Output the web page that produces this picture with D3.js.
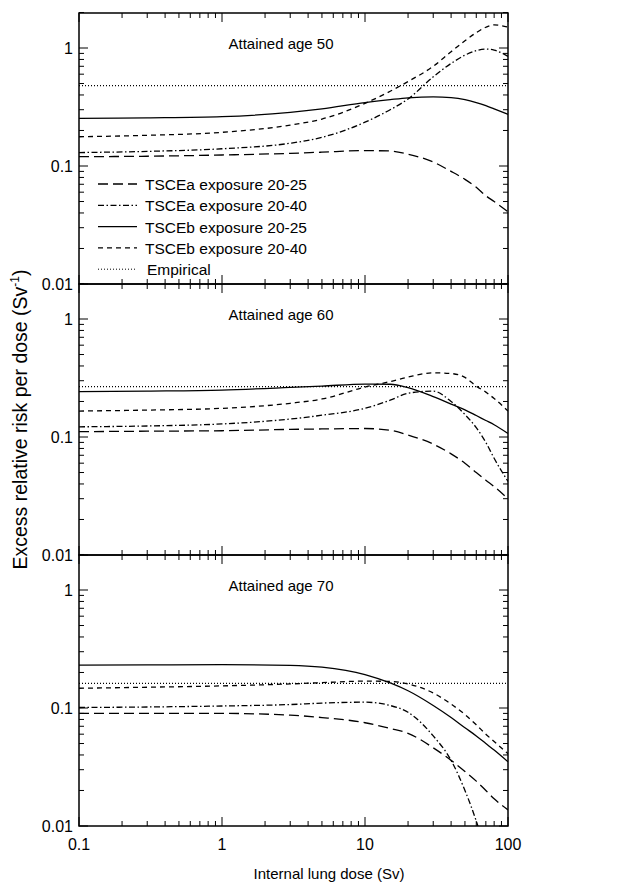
<!DOCTYPE html>
<html>
<head>
<meta charset="utf-8">
<script src="https://cdn.jsdelivr.net/npm/d3@7"></script>
<style>
  body { margin: 0; background: #fff; }
  text { font-family: "Liberation Sans", Arial, Helvetica, sans-serif; fill: #000; }
</style>
</head>
<body>
<div id="chart"></div>
<script>
// doses where curves were read (Sv)
var doses = [0.1, 0.3, 1, 3, 5, 10, 15, 20, 30, 40, 50, 60, 70, 80, 100];

var panelTitles = ["Attained age 50", "Attained age 60", "Attained age 70"];

// attained age 50
var age50_a2025 = [0.12, 0.121, 0.124, 0.128, 0.131, 0.135, 0.134, 0.126, 0.108, 0.09, 0.077, 0.066, 0.056, 0.05, 0.041];
var age50_a2040 = [0.13, 0.133, 0.14, 0.156, 0.175, 0.235, 0.3, 0.37, 0.57, 0.74, 0.87, 0.95, 0.98, 0.96, 0.85];
var age50_b2025 = [0.253, 0.256, 0.262, 0.285, 0.305, 0.345, 0.365, 0.378, 0.386, 0.38, 0.365, 0.345, 0.325, 0.305, 0.274];
var age50_b2040 = [0.177, 0.182, 0.193, 0.222, 0.25, 0.34, 0.43, 0.52, 0.7, 0.93, 1.15, 1.35, 1.5, 1.57, 1.5];
var age50_emp = 0.48;

// attained age 60
var age60_a2025 = [0.111, 0.112, 0.113, 0.116, 0.117, 0.118, 0.114, 0.104, 0.087, 0.072, 0.06, 0.05, 0.043, 0.038, 0.03];
var age60_a2040 = [0.122, 0.124, 0.129, 0.142, 0.153, 0.175, 0.205, 0.235, 0.245, 0.2, 0.155, 0.12, 0.09, 0.066, 0.042];
var age60_b2025 = [0.242, 0.245, 0.25, 0.263, 0.27, 0.281, 0.28, 0.262, 0.22, 0.19, 0.17, 0.152, 0.138, 0.127, 0.107];
var age60_b2040 = [0.166, 0.169, 0.175, 0.193, 0.21, 0.265, 0.295, 0.322, 0.35, 0.345, 0.32, 0.27, 0.24, 0.212, 0.166];
var age60_emp = 0.267;

// attained age 70
var age70_a2025 = [0.09, 0.09, 0.09, 0.087, 0.083, 0.075, 0.067, 0.061, 0.046, 0.036, 0.029, 0.024, 0.02, 0.017, 0.0137];
var age70_a2040 = [0.101, 0.102, 0.104, 0.107, 0.11, 0.112, 0.105, 0.092, 0.058, 0.036, 0.02, 0.011, 0.006, 0.003, 0.001];
var age70_b2025 = [0.231, 0.232, 0.233, 0.23, 0.222, 0.192, 0.163, 0.14, 0.105, 0.083, 0.068, 0.058, 0.05, 0.044, 0.035];
var age70_b2040 = [0.147, 0.15, 0.154, 0.16, 0.164, 0.169, 0.168, 0.16, 0.134, 0.108, 0.088, 0.072, 0.06, 0.052, 0.041];
var age70_emp = 0.162;

var seriesNames = ["TSCEa exposure 20-25", "TSCEa exposure 20-40",
                   "TSCEb exposure 20-25", "TSCEb exposure 20-40", "Empirical"];
var seriesDash = ["10,5", "6,2.5,1.5,2.5", null, "5,4", "1,2"];

var xTickValues = [0.1, 1, 10, 100];
var xTickLabels = ["0.1", "1", "10", "100"];
var yTickValues = [0.01, 0.1, 1];
var yTickLabels = ["0.01", "0.1", "1"];

var panels = [
    {"title": panelTitles[0], "curves": [age50_a2025, age50_a2040, age50_b2025, age50_b2040], "emp": age50_emp},
    {"title": panelTitles[1], "curves": [age60_a2025, age60_a2040, age60_b2025, age60_b2040], "emp": age60_emp},
    {"title": panelTitles[2], "curves": [age70_a2025, age70_a2040, age70_b2025, age70_b2040], "emp": age70_emp}
];

var svgWidth = 617, svgHeight = 883;
var plotLeft = 79, plotRight = 508, plotTop = 13, panelHeight = 271;

var svg = d3.select("#chart").append("svg")
        .attr("width", svgWidth)
        .attr("height", svgHeight);

var x = d3.scaleLog().domain([0.1, 100]).range([plotLeft, plotRight]);

// minor tick positions per decade
function minorTicks(lo, hi)
{
    var out = [];
    for (var p = Math.round(Math.log10(lo)); p < Math.round(Math.log10(hi)); p++)
        for (var k = 2; k <= 9; k++)
            out.push(k * Math.pow(10, p));
    return out;
}
var xMinor = minorTicks(0.1, 100);
var yMinor = minorTicks(0.01, 1).concat([2]);

panels.forEach(function (panel, i)
{
    var y0 = plotTop + i * panelHeight;
    var y = d3.scaleLog().domain([0.01, 1.98]).range([y0 + panelHeight, y0]);
    var g = svg.append("g");

    g.append("clipPath").attr("id", "clip" + i)
        .append("rect").attr("x", plotLeft).attr("y", y0)
        .attr("width", plotRight - plotLeft).attr("height", panelHeight);

    var plot = g.append("g").attr("clip-path", "url(#clip" + i + ")");

    var line = d3.line()
            .x(function (d) { return x(d[0]); })
            .y(function (d) { return y(d[1]); })
            .curve(d3.curveMonotoneX);

    panel.curves.forEach(function (vals, j)
    {
        plot.append("path")
            .attr("d", line(doses.map(function (d, k) { return [d, vals[k]]; })))
            .attr("fill", "none")
            .attr("stroke", "#000")
            .attr("stroke-width", 1.3)
            .attr("stroke-dasharray", seriesDash[j]);
    });

    plot.append("path")
        .attr("d", line([[0.1, panel.emp], [100, panel.emp]]))
        .attr("fill", "none")
        .attr("stroke", "#000")
        .attr("stroke-width", 1.2)
        .attr("stroke-dasharray", seriesDash[4]);

    // frame
    g.append("rect").attr("x", plotLeft).attr("y", y0)
        .attr("width", plotRight - plotLeft).attr("height", panelHeight)
        .attr("fill", "none").attr("stroke", "#000").attr("stroke-width", 1.5);

    // inward ticks, all four sides
    var ticks = g.append("g").attr("stroke", "#000").attr("stroke-width", 1);
    xTickValues.forEach(function (v)
    {
        ticks.append("line").attr("x1", x(v)).attr("x2", x(v)).attr("y1", y0 + panelHeight).attr("y2", y0 + panelHeight - 9);
        ticks.append("line").attr("x1", x(v)).attr("x2", x(v)).attr("y1", y0).attr("y2", y0 + 9);
    });
    xMinor.forEach(function (v)
    {
        ticks.append("line").attr("x1", x(v)).attr("x2", x(v)).attr("y1", y0 + panelHeight).attr("y2", y0 + panelHeight - 5);
        ticks.append("line").attr("x1", x(v)).attr("x2", x(v)).attr("y1", y0).attr("y2", y0 + 5);
    });
    yTickValues.forEach(function (v)
    {
        ticks.append("line").attr("x1", plotLeft).attr("x2", plotLeft + 9).attr("y1", y(v)).attr("y2", y(v));
        ticks.append("line").attr("x1", plotRight).attr("x2", plotRight - 9).attr("y1", y(v)).attr("y2", y(v));
    });
    yMinor.forEach(function (v)
    {
        ticks.append("line").attr("x1", plotLeft).attr("x2", plotLeft + 5).attr("y1", y(v)).attr("y2", y(v));
        ticks.append("line").attr("x1", plotRight).attr("x2", plotRight - 5).attr("y1", y(v)).attr("y2", y(v));
    });

    // y tick labels
    yTickValues.forEach(function (v, k)
    {
        g.append("text").attr("x", plotLeft - 6).attr("y", y(v) + 6)
            .attr("text-anchor", "end").attr("font-size", 16)
            .text(yTickLabels[k]);
    });

    g.append("text").attr("x", 281).attr("y", y(1) + 1)
        .attr("text-anchor", "middle").attr("font-size", 15)
        .text(panel.title);

    // legend only in first panel
    if (i === 0)
    {
        var legend = g.append("g");
        seriesNames.forEach(function (name, k)
        {
            var ly = 184 + k * 21.3;
            legend.append("line").attr("x1", 98).attr("x2", 137)
                .attr("y1", ly).attr("y2", ly)
                .attr("stroke", "#000").attr("stroke-width", k === 4 ? 1 : 1.3)
                .attr("stroke-dasharray", seriesDash[k]);
            legend.append("text").attr("x", k === 4 ? 147 : 145).attr("y", ly + 6)
                .attr("font-size", 15.5).text(name);
        });
    }
});

// x tick labels under last panel
var plotBottom = plotTop + 3 * panelHeight;
xTickValues.forEach(function (v, k)
{
    svg.append("text").attr("x", x(v)).attr("y", plotBottom + 24)
        .attr("text-anchor", "middle").attr("font-size", 16)
        .text(xTickLabels[k]);
});

svg.append("text").attr("x", 329).attr("y", 879)
    .attr("text-anchor", "middle").attr("font-size", 15)
    .text("Internal lung dose (Sv)");

var yl = svg.append("text")
        .attr("transform", "translate(27," + (plotTop + 1.5 * panelHeight) + ") rotate(-90)")
        .attr("text-anchor", "middle").attr("font-size", 19.5);
yl.append("tspan").text("Excess relative risk per dose (Sv");
yl.append("tspan").attr("font-size", 12).attr("dy", -8).text("-1");
yl.append("tspan").attr("dy", 8).text(")");
</script>
</body>
</html>
